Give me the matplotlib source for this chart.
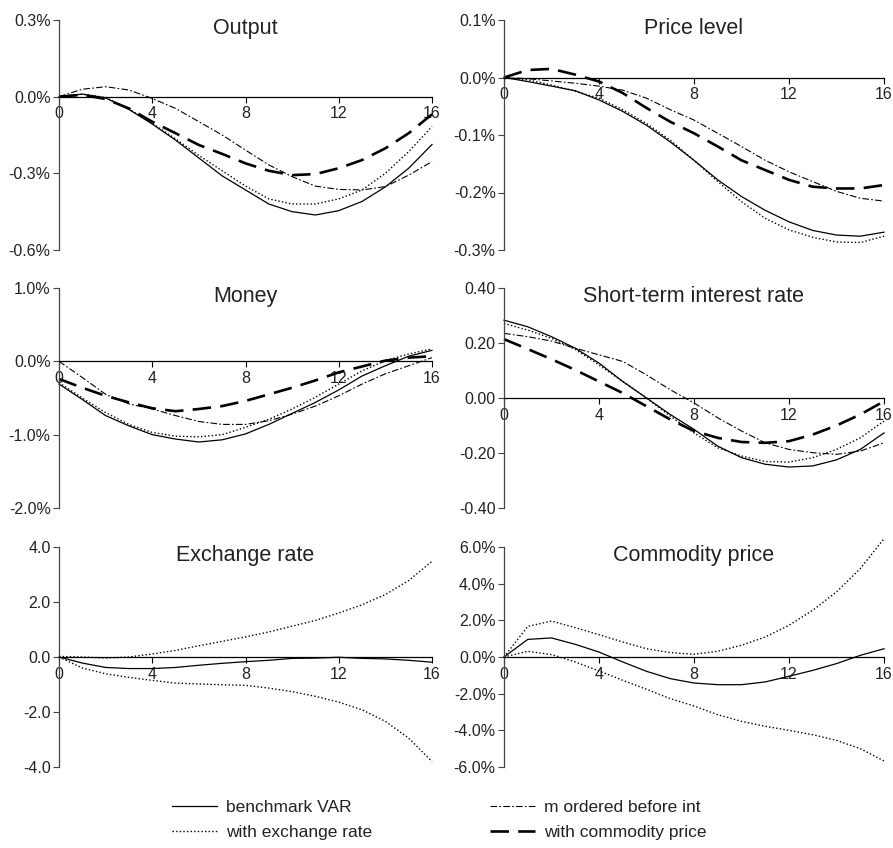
import matplotlib
matplotlib.use("Agg")
import matplotlib.pyplot as plt
from matplotlib.lines import Line2D
from matplotlib.ticker import FormatStrFormatter
import numpy as np

plt.rcParams['font.family'] = ['Liberation Sans', 'DejaVu Sans']
plt.rcParams['axes.unicode_minus'] = False

# Quarters after the shock
quarters = np.arange(17)

# Output (%)
out_bench = [0, 0.01, -0.005, -0.05, -0.107, -0.17, -0.24, -0.31, -0.365, -0.42,
             -0.45, -0.463, -0.446, -0.41, -0.353, -0.28, -0.187]
out_exch = [0, 0.01, -0.003, -0.048, -0.105, -0.165, -0.23, -0.29, -0.35, -0.40,
            -0.42, -0.42, -0.40, -0.365, -0.30, -0.215, -0.117]
out_morder = [0, 0.029, 0.039, 0.026, -0.007, -0.046, -0.098, -0.15, -0.209, -0.267,
              -0.313, -0.35, -0.363, -0.365, -0.352, -0.307, -0.254]
out_comm = [0, 0.007, -0.009, -0.046, -0.098, -0.143, -0.189, -0.224, -0.261, -0.29,
            -0.307, -0.303, -0.28, -0.248, -0.202, -0.143, -0.069]

# Price level (%)
price_bench = [0, -0.007, -0.015, -0.023, -0.039, -0.059, -0.083, -0.112, -0.144, -0.178,
               -0.207, -0.231, -0.251, -0.266, -0.274, -0.276, -0.269]
price_exch = [0, -0.004, -0.013, -0.024, -0.036, -0.056, -0.08, -0.109, -0.144, -0.181,
              -0.216, -0.245, -0.265, -0.278, -0.286, -0.287, -0.276]
price_morder = [0, -0.002, -0.006, -0.01, -0.015, -0.022, -0.036, -0.056, -0.074, -0.097,
                -0.12, -0.144, -0.164, -0.181, -0.198, -0.21, -0.215]
price_comm = [0, 0.013, 0.015, 0.005, -0.007, -0.027, -0.053, -0.077, -0.097, -0.12,
              -0.144, -0.161, -0.178, -0.19, -0.193, -0.193, -0.187]

# Money (%)
money_bench = [-0.31, -0.52, -0.74, -0.88, -1.0, -1.06, -1.1, -1.07, -0.99, -0.86,
               -0.71, -0.56, -0.39, -0.20, -0.06, 0.07, 0.15]
money_exch = [-0.29, -0.5, -0.7, -0.86, -0.97, -1.02, -1.03, -1.0, -0.9, -0.79,
              -0.65, -0.49, -0.31, -0.13, 0.01, 0.1, 0.17]
money_morder = [0.0, -0.22, -0.45, -0.58, -0.65, -0.74, -0.82, -0.86, -0.86, -0.81,
                -0.72, -0.61, -0.47, -0.31, -0.17, -0.06, 0.05]
money_comm = [-0.24, -0.36, -0.47, -0.56, -0.64, -0.68, -0.65, -0.61, -0.54, -0.45,
              -0.36, -0.26, -0.15, -0.07, 0.01, 0.05, 0.07]

# Short-term interest rate (percentage points)
rate_bench = [0.283, 0.259, 0.223, 0.181, 0.127, 0.06, 0.0, -0.06, -0.114, -0.175,
              -0.217, -0.241, -0.251, -0.247, -0.225, -0.187, -0.127]
rate_exch = [0.271, 0.247, 0.217, 0.177, 0.12, 0.06, 0.0, -0.066, -0.127, -0.181,
             -0.211, -0.231, -0.233, -0.217, -0.187, -0.145, -0.084]
rate_morder = [0.235, 0.223, 0.207, 0.181, 0.157, 0.133, 0.084, 0.03, -0.018, -0.072,
               -0.12, -0.163, -0.187, -0.199, -0.205, -0.193, -0.163]
rate_comm = [0.214, 0.178, 0.141, 0.102, 0.06, 0.018, -0.03, -0.078, -0.12, -0.145,
             -0.16, -0.163, -0.157, -0.133, -0.1, -0.06, -0.012]

# Exchange rate: point estimate with upper and lower bands
fx_mid = [0, -0.22, -0.38, -0.42, -0.42, -0.38, -0.30, -0.23, -0.17, -0.12,
          -0.05, -0.04, -0.01, -0.05, -0.07, -0.12, -0.19]
fx_hi = [0.02, 0.0, -0.04, 0.0, 0.11, 0.24, 0.41, 0.57, 0.73, 0.91,
         1.12, 1.33, 1.6, 1.9, 2.27, 2.78, 3.48]
fx_lo = [0, -0.4, -0.61, -0.74, -0.85, -0.95, -0.98, -1.01, -1.03, -1.13,
         -1.26, -1.43, -1.64, -1.92, -2.34, -2.95, -3.8]

# Commodity price (%): point estimate with upper and lower bands
cp_mid = [0, 0.96, 1.04, 0.69, 0.27, -0.27, -0.78, -1.18, -1.42, -1.51,
          -1.51, -1.36, -1.05, -0.73, -0.36, 0.09, 0.45]
cp_hi = [0, 1.67, 1.96, 1.6, 1.22, 0.82, 0.45, 0.24, 0.15, 0.31,
         0.64, 1.09, 1.73, 2.55, 3.55, 4.82, 6.45]
cp_lo = [0, 0.31, 0.13, -0.27, -0.76, -1.27, -1.76, -2.27, -2.67, -3.15,
         -3.51, -3.78, -4.0, -4.24, -4.55, -5.0, -5.67]

titles = ["Output", "Price level", "Money", "Short-term interest rate",
          "Exchange rate", "Commodity price"]
labels = ["benchmark VAR", "with exchange rate", "m ordered before int",
          "with commodity price"]

styles = [
    dict(color="black", lw=0.9, ls="-"),
    dict(color="black", lw=1.0, ls=(0, (1, 1.6))),
    dict(color="black", lw=0.8, ls=(0, (6, 2, 1.5, 2))),
    dict(color="black", lw=1.9, ls=(0, (7, 3.5))),
]

W, H = 893, 848
fig = plt.figure(figsize=(W / 100, H / 100), dpi=100)


def make_axes(x0, x1, top, bot):
    return fig.add_axes([x0 / W, 1 - bot / H, (x1 - x0) / W, (bot - top) / H])


axs = [
    make_axes(59, 432, 20, 250), make_axes(504, 884, 20, 250),
    make_axes(59, 432, 288, 508), make_axes(504, 884, 288, 508),
    make_axes(59, 432, 547, 767), make_axes(504, 884, 547, 767),
]

panel_series = [
    [out_bench, out_exch, out_morder, out_comm],
    [price_bench, price_exch, price_morder, price_comm],
    [money_bench, money_exch, money_morder, money_comm],
    [rate_bench, rate_exch, rate_morder, rate_comm],
]
yticks = [
    [-0.6, -0.3, 0.0, 0.3],
    [-0.3, -0.2, -0.1, 0.0, 0.1],
    [-2.0, -1.0, 0.0, 1.0],
    [-0.4, -0.2, 0.0, 0.2, 0.4],
    [-4.0, -2.0, 0.0, 2.0, 4.0],
    [-6.0, -4.0, -2.0, 0.0, 2.0, 4.0, 6.0],
]
fmts = ["%.1f%%", "%.1f%%", "%.1f%%", "%.2f", "%.1f", "%.1f%%"]

for i, ax in enumerate(axs):
    if i < 4:
        for ys, st in zip(panel_series[i], styles):
            ax.plot(quarters, ys, clip_on=False, **st)
    else:
        mid, hi, lo = (fx_mid, fx_hi, fx_lo) if i == 4 else (cp_mid, cp_hi, cp_lo)
        ax.plot(quarters, mid, clip_on=False, **styles[0])
        ax.plot(quarters, hi, clip_on=False, **styles[1])
        ax.plot(quarters, lo, clip_on=False, **styles[1])

    ax.set_xlim(0, 16)
    ax.set_ylim(yticks[i][0], yticks[i][-1])
    ax.set_yticks(yticks[i])
    ax.yaxis.set_major_formatter(FormatStrFormatter(fmts[i]))
    ax.set_xticks([0, 4, 8, 12, 16])
    ax.spines['top'].set_visible(False)
    ax.spines['right'].set_visible(False)
    ax.spines['bottom'].set_position(('data', 0))
    ax.spines['left'].set_color('#444444')
    ax.spines['left'].set_linewidth(0.9)
    ax.spines['bottom'].set_linewidth(0.9)
    ax.tick_params(axis='y', direction='out', length=4, width=0.8,
                   color='#444444', labelsize=11.5, pad=2, labelcolor='#222222')
    ax.tick_params(axis='x', direction='out', length=4, width=0.8,
                   labelsize=11.5, pad=3, labelcolor='#222222')
    ax.patch.set_visible(False)
    ax.annotate(titles[i], xy=(0.5, 1.0), xycoords='axes fraction',
                xytext=(0, -6), textcoords='offset points',
                ha='center', va='center', fontsize=15.5, color='#222222')

handles = [Line2D([], [], **st) for st in styles]
fig.legend(handles, labels, ncol=2, loc='center', bbox_to_anchor=(0.492, 0.033),
           frameon=False, fontsize=12.5, handlelength=2.6, handletextpad=0.5,
           columnspacing=6.8, labelspacing=0.55, labelcolor='#222222')

fig.savefig("out.png", dpi=100)
